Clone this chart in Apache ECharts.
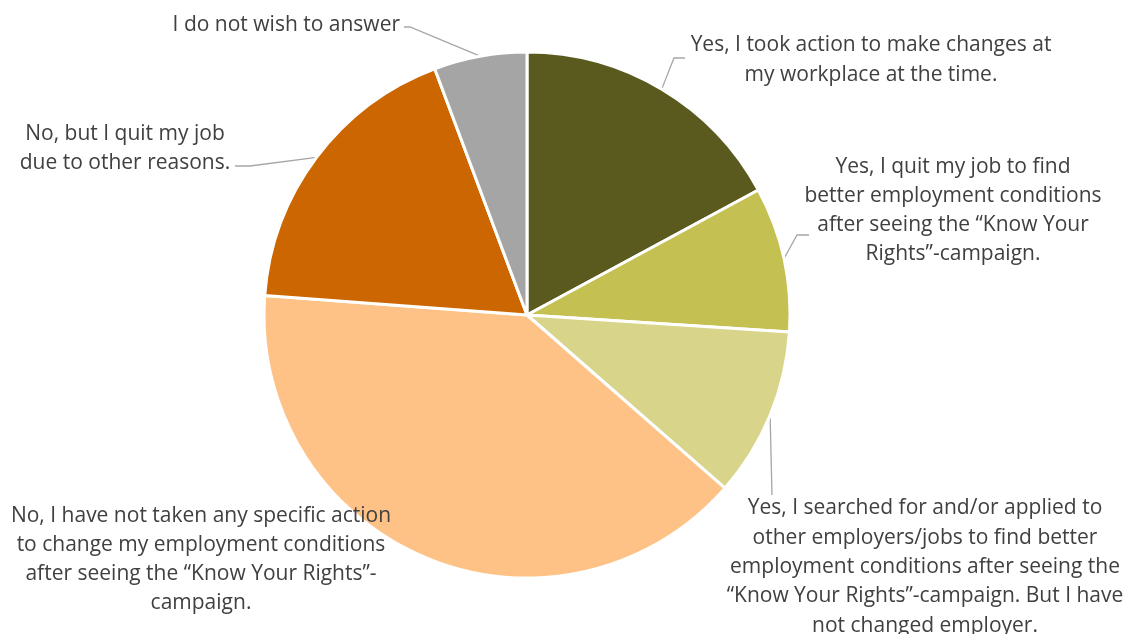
<!DOCTYPE html>
<html>
<head>
<meta charset="utf-8">
<script src="https://cdn.jsdelivr.net/npm/echarts@6/dist/echarts.min.js"></script>
<style>
  html, body { margin: 0; padding: 0; background: #ffffff; }
  #chart { width: 1128px; height: 634px; }
</style>
</head>
<body>
<div id="chart"></div>
<script>
// Survey answers, clockwise from 12 o'clock
const categories = [
  'Yes, I took action to make changes at\nmy workplace at the time.',
  'Yes, I quit my job to find\nbetter employment conditions\nafter seeing the \u201cKnow Your\nRights\u201d-campaign.',
  'Yes, I searched for and/or applied to\nother employers/jobs to find better\nemployment conditions after seeing the\n\u201cKnow Your Rights\u201d-campaign. But I have\nnot changed employer.',
  'No, I have not taken any specific action\nto change my employment conditions\nafter seeing the \u201cKnow Your Rights\u201d-\ncampaign.',
  'No, but I quit my job\ndue to other reasons.',
  'I do not wish to answer'
];
// Share of respondents (%)
const shares = [17.1, 8.9, 10.4, 39.7, 18.1, 5.7];

const sliceColors = ['#5a5a1e', '#c5c052', '#d8d58a', '#fec286', '#cc6600', '#a5a5a5'];

// Where each label block sits, and the bend/end points of its leader line
const labelSpots = [
  { x: 871, y: 60,    align: 'center', guide: [[674, 58], [685, 58]] },
  { x: 953, y: 210.5, align: 'center', guide: [[797, 235], [809, 235]] },
  { x: 925, y: 567,   align: 'center', guide: [[772, 495]] },
  { x: 201, y: 559.5, align: 'center', guide: null },
  { x: 125, y: 148.5, align: 'center', guide: [[250, 166], [235, 166]] },
  { x: 400, y: 25,    align: 'right',  guide: [[410, 27], [404, 27]] }
];

const chart = echarts.init(document.getElementById('chart'), null, { renderer: 'canvas' });

const pieData = categories.map(function (name, i) {
  return {
    name: name,
    value: shares[i],
    itemStyle: { color: sliceColors[i] },
    labelLine: { show: !!labelSpots[i].guide }
  };
});

chart.setOption({
  animation: false,
  backgroundColor: '#ffffff',
  series: [{
    type: 'pie',
    center: [527, 315],
    radius: 263,
    startAngle: 90,
    clockwise: true,
    avoidLabelOverlap: false,
    silent: true,
    data: pieData,
    itemStyle: { borderColor: '#ffffff', borderWidth: 3 },
    label: {
      show: true,
      position: 'outside',
      formatter: '{b}',
      color: '#404040',
      fontFamily: 'Open Sans',
      fontSize: 21,
      lineHeight: 29.3
    },
    labelLine: {
      show: true,
      lineStyle: { color: '#a6a6a6', width: 1.3 }
    },
    labelLayout: function (params) {
      const spot = labelSpots[params.dataIndex];
      const out = { x: spot.x, y: spot.y, align: spot.align, verticalAlign: 'middle' };
      if (spot.guide && params.labelLinePoints) {
        out.labelLinePoints = [params.labelLinePoints[0]].concat(spot.guide);
      }
      return out;
    },
    emphasis: { disabled: true }
  }]
});
</script>
</body>
</html>
